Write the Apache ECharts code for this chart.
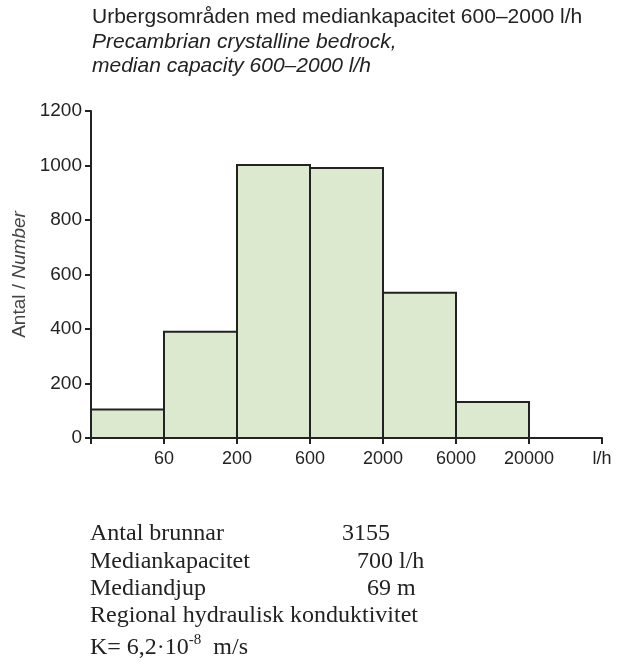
<!DOCTYPE html>
<html>
<head>
<meta charset="utf-8">
<script src="https://cdn.jsdelivr.net/npm/echarts@6/dist/echarts.min.js"></script>
<style>
  html, body { margin: 0; padding: 0; background: #fff; }
  #chart { width: 617px; height: 662px; }
</style>
</head>
<body>
<div id="chart"></div>
<script>
// bin edges (l/h) shown under the x axis, one label per boundary
const edgeLabels = ["", "60", "200", "600", "2000", "6000", "20000", "l/h"];
// number of wells per capacity bin
const counts = [105, 390, 1002, 991, 533, 132, 0];
const yTicks = [0, 200, 400, 600, 800, 1000, 1200];

const chart = echarts.init(document.getElementById("chart"));

const sans = "Liberation Sans, Arial, sans-serif";
const serif = "Liberation Serif, Times New Roman, serif";

chart.setOption({
  animation: false,
  grid: { left: 91, right: 15, top: 111, bottom: 224 },
  xAxis: {
    type: "value",
    min: 0,
    max: edgeLabels.length - 1,
    interval: 1,
    axisLine: { lineStyle: { color: "#222", width: 2 } },
    axisTick: { length: 6, lineStyle: { color: "#222", width: 2 } },
    splitLine: { show: false },
    axisLabel: {
      color: "#222",
      fontFamily: sans,
      fontSize: 18,
      margin: 12,
      formatter: (v) => edgeLabels[v] ?? "",
    },
  },
  yAxis: {
    type: "value",
    min: 0,
    max: yTicks[yTicks.length - 1],
    interval: 200,
    name: "{a|Antal / }{b|Number}",
    nameLocation: "middle",
    nameRotate: 90,
    nameGap: 62,
    nameTextStyle: {
      rich: {
        a: { fontFamily: sans, fontSize: 19, color: "#444" },
        b: { fontFamily: sans, fontSize: 19, color: "#444", fontStyle: "italic" },
      },
    },
    axisLine: { show: true, lineStyle: { color: "#222", width: 2 } },
    axisTick: { show: true, length: 6, lineStyle: { color: "#222", width: 2 } },
    splitLine: { show: false },
    axisLabel: {
      color: "#222",
      fontFamily: sans,
      fontSize: 19,
      margin: 9,
      formatter: (v) => String(v),
    },
  },
  series: [
    {
      type: "custom",
      data: counts.map((c, i) => [i, i + 1, c]),
      encode: { x: [0, 1], y: 2 },
      renderItem: (params, api) => {
        const h = api.value(2);
        if (!h) return null;
        const p0 = api.coord([api.value(0), h]);
        const p1 = api.coord([api.value(1), 0]);
        return {
          type: "rect",
          shape: { x: p0[0], y: p0[1], width: p1[0] - p0[0], height: p1[1] - p0[1] },
          style: { fill: "#dde9cf", stroke: "#222", lineWidth: 2 },
        };
      },
      z: 1,
    },
  ],
  graphic: [
    {
      type: "text", left: 92, top: 7,
      style: { text: "Urbergsområden med mediankapacitet 600–2000 l/h", font: "21px " + sans, fill: "#222" },
    },
    {
      type: "text", left: 92, top: 32,
      style: { text: "Precambrian crystalline bedrock,", font: "italic 21px " + sans, fill: "#222" },
    },
    {
      type: "text", left: 92, top: 56,
      style: { text: "median capacity 600–2000 l/h", font: "italic 21px " + sans, fill: "#222" },
    },
    { type: "text", left: 90, top: 522, style: { text: "Antal brunnar", font: "24px " + serif, fill: "#222" } },
    { type: "text", left: 342, top: 522, style: { text: "3155", font: "24px " + serif, fill: "#222" } },
    { type: "text", left: 90, top: 550, style: { text: "Mediankapacitet", font: "24px " + serif, fill: "#222" } },
    { type: "text", left: 357, top: 550, style: { text: "700 l/h", font: "24px " + serif, fill: "#222" } },
    { type: "text", left: 90, top: 577, style: { text: "Mediandjup", font: "24px " + serif, fill: "#222" } },
    { type: "text", left: 367, top: 577, style: { text: "69 m", font: "24px " + serif, fill: "#222" } },
    { type: "text", left: 90, top: 604, style: { text: "Regional hydraulisk konduktivitet", font: "24px " + serif, fill: "#222" } },
    {
      type: "text", left: 90, top: 633,
      style: {
        text: "K= 6,2·10{sup|-8}  m/s",
        font: "24px " + serif,
        fill: "#222",
        rich: { sup: { fontFamily: serif, fontSize: 15, verticalAlign: "top", padding: [0, 0, 14, 0] } },
      },
    },
  ],
});
</script>
</body>
</html>
